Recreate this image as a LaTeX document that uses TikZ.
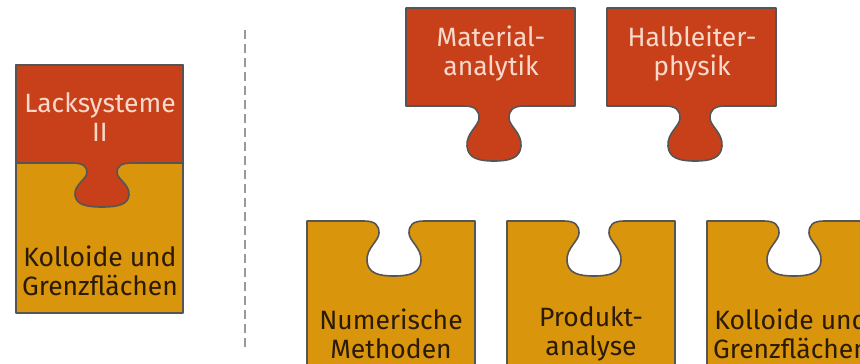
\documentclass[tikz,border=0pt]{standalone}
\usepackage{fontspec}
\setmainfont{Fira Sans}
\usetikzlibrary{positioning}
\definecolor{lackrot}{HTML}{C8401A}
\definecolor{lackgold}{HTML}{D9950C}
\definecolor{rand}{HTML}{555555}
\definecolor{hellschrift}{HTML}{F8D9CB}
\definecolor{dunkelschrift}{HTML}{2B1A05}

% knob, from left to right, centred at (0,0), hanging downwards
\newcommand{\knob}{.. controls (-19,0) and (-15,4) .. (-15,12)
  .. controls (-15,20) and (-28,27) .. (-27,40)
  .. controls (-26,52) and (-16,55) .. (0,55)
  .. controls (16,55) and (26,52) .. (27,40)
  .. controls (28,27) and (15,20) .. (15,12)
  .. controls (15,4) and (19,0) .. (30,0)}

\begin{document}
\begin{tikzpicture}[x=1pt, y=-1pt,
      rotteil/.style={fill=lackrot, draw=rand, line width=1.6pt, line join=round},
      goldteil/.style={fill=lackgold, draw=rand, line width=1.6pt, line join=round},
      hell/.style={align=center, text=hellschrift, font=\fontsize{26.5}{29}\selectfont},
      dunkel/.style={align=center, text=dunkelschrift, font=\fontsize{26.5}{29}\selectfont}]

\clip (0,0) rectangle (860,364);
\fill[white] (0,0) rectangle (860,364);

% left piece
\draw[goldteil] (16,65) rectangle (183,313);
\begin{scope}[shift={(102,163)}, yscale=0.8]
\draw[rotteil] (-86,-122.5) -- (-86,0) -- (-30,0) \knob -- (81,0) -- (81,-122.5) -- cycle;
\end{scope}
\node[hell] (lack) at (100,117) {Lacksysteme\\II};
\node[dunkel] (kolloid1) at (100,271) {Kolloide und\\Grenzflächen};

% separator
\draw[rand!60, line width=2.4pt, dash pattern=on 9pt off 5pt] (245,30) -- (245,348);

% top pieces
\begin{scope}[shift={(494,106)}]
\draw[rotteil] (-88,-98) -- (-88,0) -- (-30,0) \knob -- (81,0) -- (81,-98) -- cycle;
\end{scope}
\begin{scope}[shift={(695,106)}]
\draw[rotteil] (-88,-98) -- (-88,0) -- (-30,0) \knob -- (81,0) -- (81,-98) -- cycle;
\end{scope}
\node[hell] (material) at (491,53) {Material-\\analytik};
\node[hell] (halbleiter) at (692,53) {Halbleiter-\\physik};

% bottom pieces
\foreach \cx/\name in {394/num, 594/prod, 794/koll}{
  \begin{scope}[shift={(\cx,221)}]
  \draw[goldteil] (-87,0) -- (-30,0) \knob -- (81,0) -- (81,170) -- (-87,170) -- cycle;
  \end{scope}
}
\node[dunkel] (numerik) at (391,334) {Numerische\\Methoden};
\node[dunkel] (produkt) at (591,334) {Produkt-\\analyse};
\node[dunkel] (kolloid2) at (791,334) {Kolloide und\\Grenzflächen};

\end{tikzpicture}
\end{document}
